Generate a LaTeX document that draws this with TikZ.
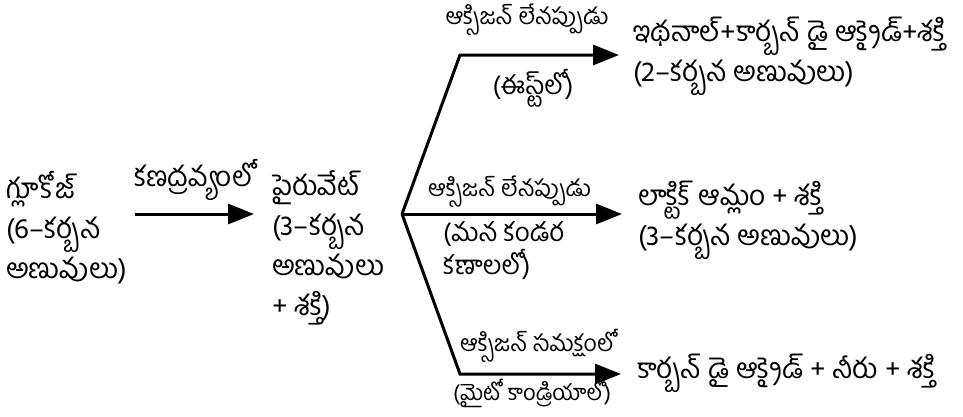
\documentclass[tikz,border=0pt]{standalone}
\usepackage{fontspec}
\newfontfamily\telugu[Script=Telugu]{Hind Guntur}
\usetikzlibrary{arrows.meta, positioning}

\tikzset{
  txt/.style={font=\telugu\fontsize{28}{40}\selectfont, inner sep=0pt, align=left},
  lbl/.style={font=\telugu\fontsize{23}{33}\selectfont, inner sep=0pt, align=left},
  sublbl/.style={font=\telugu\fontsize{26}{33}\selectfont, inner sep=0pt, align=left},
  arr/.style={line width=3pt, -{Triangle[length=26pt,width=20pt]}}
}

\begin{document}
\begin{tikzpicture}[x=1pt, y=-1pt]
\useasboundingbox (0,0) rectangle (963,416);
% left side
\node[txt, anchor=west] (glucose) at (6,228) {గ్లూకోజ్\\(6–కర్బన\\అణువులు)};
\node[txt, anchor=west] (pyruvate) at (272,248) {పైరువేట్\\(3–కర్బన\\అణువులు\\+ శక్తి)};
\coordinate (split) at (402,214);
\coordinate (topbend) at (460,55);
\coordinate (botbend) at (460,374);
% products
\node[txt, anchor=west] (ethanol) at (633,56) {ఇథనాల్+కార్బన్ డై ఆక్సైడ్+శక్తి\\(2–కర్బన అణువులు)};
\node[txt, anchor=west] (lactic) at (638,220) {లాక్టిక్ ఆమ్లం + శక్తి\\(3–కర్బన అణువులు)};
\node[txt, anchor=west] (water) at (637,373) {కార్బన్ డై ఆక్సైడ్ + నీరు + శక్తి};
% conditions
\node[lbl] (noox1) at (527,20) {ఆక్సిజన్ లేనప్పుడు};
\node[sublbl] (yeast) at (533,88) {(ఈస్ట్‌లో)};
\node[lbl, anchor=west] (noox2) at (428,192) {ఆక్సిజన్ లేనప్పుడు};
\node[sublbl, anchor=west] (muscle) at (443,251) {(మన కండర\\కణాలలో)};
\node[lbl, anchor=west] (withox) at (460,346) {ఆక్సిజన్ సమక్షంలో};
\node[sublbl, font=\telugu\fontsize{22}{33}\selectfont, anchor=west] (mito) at (453,393) {(మైటో కాండ్రియాలో)};
% arrows
\draw[arr] ([xshift=8pt]glucose.east |- split) -- ([xshift=-18pt]pyruvate.west |- split)
  node[txt, midway, above=12pt] (cyto) {కణద్రవ్యంలో};
\draw[arr] (split) -- (topbend) -- ([xshift=-14pt]ethanol.west |- topbend);
\draw[arr] (split) -- ([xshift=-16pt]lactic.west |- split);
\draw[arr] (split) -- (botbend) -- ([xshift=-16pt]water.west |- botbend);
\end{tikzpicture}
\end{document}
